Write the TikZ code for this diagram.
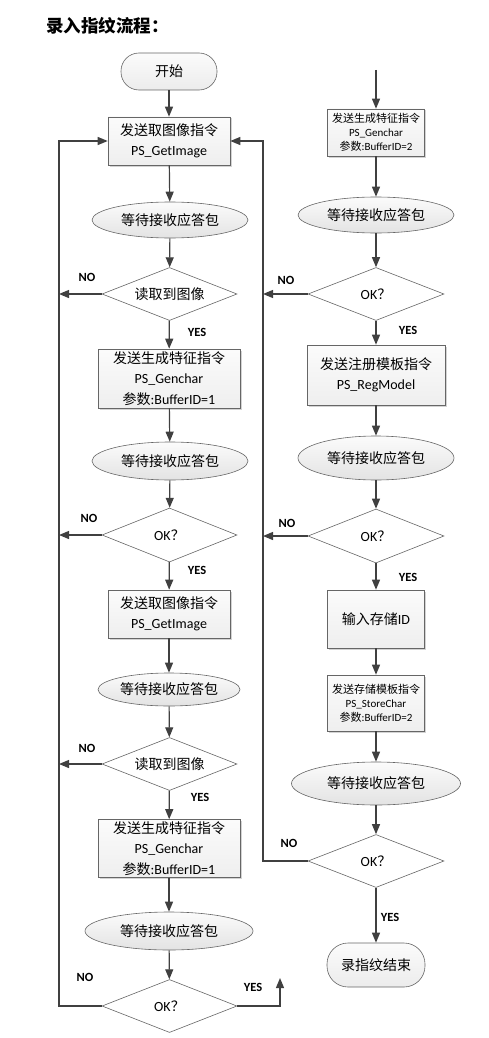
\documentclass[tikz,border=0pt]{standalone}
\usepackage{fontspec}
\setmainfont{Carlito}
\newfontfamily\cjk{Noto Sans CJK SC}
\usetikzlibrary{shapes.geometric,arrows.meta,shadows}
\newcommand{\zh}[1]{{\cjk #1}}

\tikzset{
  base/.style={draw=gray!80!black, line width=0.6pt, inner sep=0pt,
    font=\fontsize{14}{20.5}\selectfont, align=center},
  procbox/.style={base, rectangle, top color=gray!3, bottom color=gray!13,
    drop shadow={shadow xshift=1.5pt, shadow yshift=-1.5pt, opacity=0.35}},
  smallbox/.style={procbox, font=\fontsize{11}{14}\selectfont},
  waitnode/.style={base, ellipse, top color=gray!3, bottom color=gray!22},
  decide/.style={base, diamond, aspect=2.5, fill=white},
  term/.style={base, rectangle, rounded corners=18pt, top color=gray!3, bottom color=gray!15},
  arr/.style={-{Triangle[length=10pt,width=8pt]}, draw=black!75, line width=1.2pt},
  lbl/.style={font=\fontsize{12.5}{14}\selectfont\bfseries, inner sep=0pt}
}

\begin{document}
\begin{tikzpicture}[x=1pt, y=-1pt]
  \useasboundingbox (0,0) rectangle (489,1038);
  \node[anchor=west, inner sep=0pt, font=\fontsize{17.5}{20}\selectfont\cjk\bfseries] (title) at (46,26) {录入指纹流程：};

  % left column
  \node[term, minimum width=96pt, minimum height=37pt] (start) at (169,71.5) {\zh{开始}};
  \node[procbox, minimum width=122pt, minimum height=48pt] (b1) at (169,141) {\zh{发送取图像指令}\\PS\_GetImage};
  \node[waitnode, minimum width=156pt, minimum height=36pt] (e1) at (170,220) {\zh{等待接收应答包}};
  \node[decide, minimum width=135pt, minimum height=53pt] (d1) at (169.5,294) {\zh{读取到图像}};
  \node[procbox, minimum width=142pt, minimum height=59pt] (b2) at (169,378.5) {\zh{发送生成特征指令}\\PS\_Genchar\\\zh{参数}:BufferID=1};
  \node[waitnode, minimum width=156pt, minimum height=38pt] (e2) at (170,461) {\zh{等待接收应答包}};
  \node[decide, minimum width=135pt, minimum height=54pt] (d2) at (169.5,535) {OK\zh{？}};
  \node[procbox, minimum width=122pt, minimum height=48pt] (b3) at (169,614) {\zh{发送取图像指令}\\PS\_GetImage};
  \node[waitnode, minimum width=142pt, minimum height=33pt] (e3) at (169,689.5) {\zh{等待接收应答包}};
  \node[decide, minimum width=135pt, minimum height=53pt] (d3) at (169.5,764) {\zh{读取到图像}};
  \node[procbox, minimum width=142pt, minimum height=58pt] (b4) at (169,848.5) {\zh{发送生成特征指令}\\PS\_Genchar\\\zh{参数}:BufferID=1};
  \node[waitnode, minimum width=168pt, minimum height=38pt] (e4) at (169,931) {\zh{等待接收应答包}};
  \node[decide, minimum width=135pt, minimum height=53pt] (d4) at (169.5,1006) {OK\zh{？}};

  % right column
  \node[smallbox, minimum width=97pt, minimum height=47pt] (br1) at (376,132.5) {\zh{发送生成特征指令}\\PS\_Genchar\\\zh{参数}:BufferID=2};
  \node[waitnode, minimum width=156pt, minimum height=36pt] (er1) at (376,215) {\zh{等待接收应答包}};
  \node[decide, minimum width=136pt, minimum height=53pt] (dr1) at (376,294) {OK\zh{？}};
  \node[procbox, minimum width=138pt, minimum height=60pt] (br2) at (376,375) {\zh{发送注册模板指令}\\PS\_RegModel};
  \node[waitnode, minimum width=156pt, minimum height=44pt] (er2) at (376,458) {\zh{等待接收应答包}};
  \node[decide, minimum width=136pt, minimum height=54pt] (dr2) at (376,536) {OK\zh{？}};
  \node[procbox, minimum width=97pt, minimum height=58pt] (br3) at (376,619) {\zh{输入存储}ID};
  \node[smallbox, minimum width=97pt, minimum height=56pt] (br4) at (376,703) {\zh{发送存储模板指令}\\PS\_StoreChar\\\zh{参数}:BufferID=2};
  \node[waitnode, minimum width=169pt, minimum height=43pt] (er4) at (376,783.5) {\zh{等待接收应答包}};
  \node[decide, minimum width=136pt, minimum height=53pt] (dr4) at (376,861) {OK\zh{？}};
  \node[term, rounded corners=21pt, minimum width=98pt, minimum height=44pt] (stop) at (376,965) {\zh{录指纹结束}};

  % loop lines
  \coordinate (loopL) at (59,1006);
  \coordinate (loopR) at (263,861);
  \coordinate (rtop) at (376,70);
  \coordinate (yesup) at (280,978);

  % down arrows
  \draw[arr] (start) -- (b1);
  \draw[arr] (b1) -- (e1);
  \draw[arr] (e1) -- (d1);
  \draw[arr] (d1) -- (b2);
  \draw[arr] (b2) -- (e2);
  \draw[arr] (e2) -- (d2);
  \draw[arr] (d2) -- (b3);
  \draw[arr] (b3) -- (e3);
  \draw[arr] (e3) -- (d3);
  \draw[arr] (d3) -- (b4);
  \draw[arr] (b4) -- (e4);
  \draw[arr] (e4) -- (d4);
  \draw[arr] (rtop) -- (br1);
  \draw[arr] (br1) -- (er1);
  \draw[arr] (er1) -- (dr1);
  \draw[arr] (dr1) -- (br2);
  \draw[arr] (br2) -- (er2);
  \draw[arr] (er2) -- (dr2);
  \draw[arr] (dr2) -- (br3);
  \draw[arr] (br3) -- (br4);
  \draw[arr] (br4) -- (er4);
  \draw[arr] (er4) -- (dr4);
  \draw[arr] (dr4) -- (stop);

  % NO branches
  \draw[arr] (d4.west) -- (loopL) |- (b1.west);
  \draw[arr] (d1.west) -- (d1.west -| loopL);
  \draw[arr] (d2.west) -- (d2.west -| loopL);
  \draw[arr] (d3.west) -- (d3.west -| loopL);
  \draw[arr] (dr4.west) -- (loopR) |- (b1.east);
  \draw[arr] (dr1.west) -- (dr1.west -| loopR);
  \draw[arr] (dr2.west) -- (dr2.west -| loopR);
  \draw[arr] (d4.east) -| (yesup);

  % labels
  \node[lbl] (no1) at (87,277) {NO};
  \node[lbl] (yes1) at (197,332) {YES};
  \node[lbl] (no2) at (89,518) {NO};
  \node[lbl] (yes2) at (197,570) {YES};
  \node[lbl] (no3) at (87,748) {NO};
  \node[lbl] (yes3) at (200,797) {YES};
  \node[lbl] (no4) at (85,977) {NO};
  \node[lbl] (yes4) at (253,987) {YES};
  \node[lbl] (nor1) at (286,280) {NO};
  \node[lbl] (yesr1) at (408,330) {YES};
  \node[lbl] (nor2) at (287,523) {NO};
  \node[lbl] (yesr2) at (408,577) {YES};
  \node[lbl] (nor4) at (289,843) {NO};
  \node[lbl] (yesr4) at (390,917) {YES};
\end{tikzpicture}
\end{document}
